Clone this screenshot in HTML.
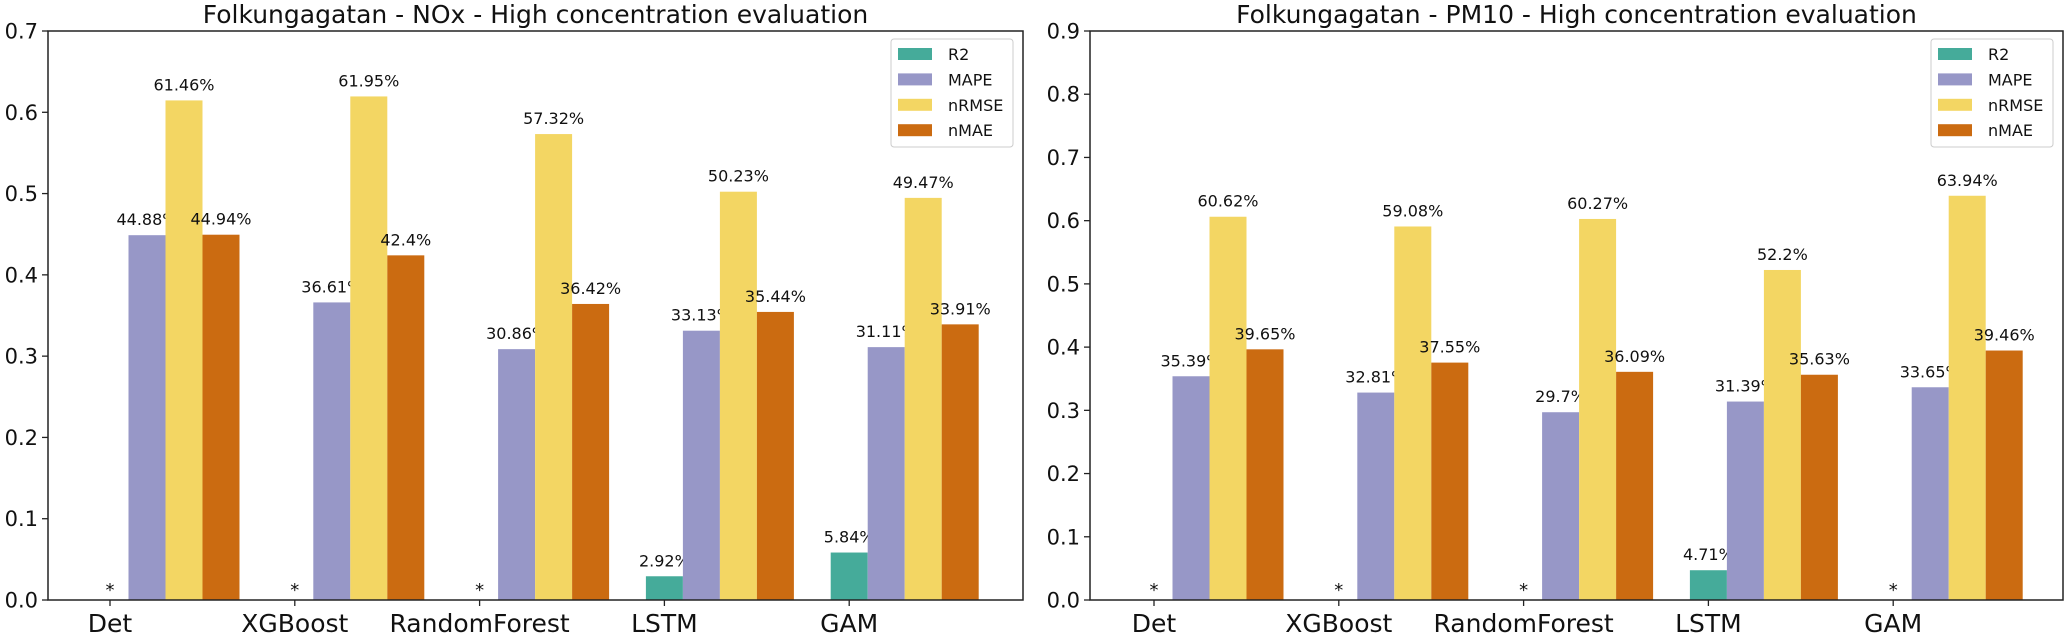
<!DOCTYPE html>
<html><head><meta charset="utf-8">
<style>
html,body{margin:0;padding:0;background:#fff;}
svg{display:block;font-family:"DejaVu Sans","Liberation Sans",sans-serif;}
</style></head>
<body>
<svg id="chart" width="2067" height="634" viewBox="0 0 2067 634" xmlns="http://www.w3.org/2000/svg"></svg>
<script>
const categories = ["Det","XGBoost","RandomForest","LSTM","GAM"];
const seriesNames = ["R2","MAPE","nRMSE","nMAE"];
const colors = ["#45ab9a","#9797c7","#f3d663","#cb6b11"];
// NOx
const noxR2 = [0,0,0,0.0292,0.0584];
const noxMAPE = [0.4488,0.3661,0.3086,0.3313,0.3111];
const noxNRMSE = [0.6146,0.6195,0.5732,0.5023,0.4947];
const noxNMAE = [0.4494,0.424,0.3642,0.3544,0.3391];
const noxR2Labels = ["*","*","*","2.92%","5.84%"];
const noxMAPELabels = ["44.88%","36.61%","30.86%","33.13%","31.11%"];
const noxNRMSELabels = ["61.46%","61.95%","57.32%","50.23%","49.47%"];
const noxNMAELabels = ["44.94%","42.4%","36.42%","35.44%","33.91%"];
const noxTicks = [0,0.1,0.2,0.3,0.4,0.5,0.6,0.7];
// PM10
const pmR2 = [0,0,0,0.0471,0];
const pmMAPE = [0.3539,0.3281,0.297,0.3139,0.3365];
const pmNRMSE = [0.6062,0.5908,0.6027,0.522,0.6394];
const pmNMAE = [0.3965,0.3755,0.3609,0.3563,0.3946];
const pmR2Labels = ["*","*","*","4.71%","*"];
const pmMAPELabels = ["35.39%","32.81%","29.7%","31.39%","33.65%"];
const pmNRMSELabels = ["60.62%","59.08%","60.27%","52.2%","63.94%"];
const pmNMAELabels = ["39.65%","37.55%","36.09%","35.63%","39.46%"];
const pmTicks = [0,0.1,0.2,0.3,0.4,0.5,0.6,0.7,0.8,0.9];

const NS="http://www.w3.org/2000/svg";
const svg=document.getElementById('chart');
function mk(tag,attrs,parent,text){const e=document.createElementNS(NS,tag);for(const k in attrs)e.setAttribute(k,attrs[k]);if(text!==undefined)e.textContent=text;(parent||svg).appendChild(e);return e;}

function drawPanel(opt){
  const g=mk('g',{});
  
  
  const L=opt.left,R=opt.right,T=31,B=600,ymax=opt.ticks[opt.ticks.length-1];
  const y=v=>B-(v/ymax)*(B-T);
  const x=(ci,si)=>L+opt.firstTick+ci*184.8+si*37;
  const bw=37;
  const t=mk('text',{x:(L+R)/2,y:23,'text-anchor':'middle','font-size':25,fill:'#111'},g,opt.title);
  
  
  opt.series.forEach((vals,si)=>{
    vals.forEach((v,ci)=>{
      const cx=x(ci,si);
      if(v>0){
        const r=mk('rect',{x:cx-bw/2,y:y(v),width:bw,height:B-y(v),fill:colors[si]},g);
        
        
      }
      const lab=opt.labels[si][ci];
      const ly=lab==='*'?y(v)-4:y(v)-10;
      const tx=mk('text',{x:cx,y:ly,'text-anchor':'middle','font-size':lab==='*'?18:16,fill:'#111'},g,lab);
      
      
    });
  });
  const frame=mk('rect',{x:L,y:T,width:R-L,height:B-T,fill:'none',stroke:'#222','stroke-width':1.5},g);
  
  
  opt.ticks.forEach(v=>{
    mk('line',{x1:L-6,x2:L,y1:y(v),y2:y(v),stroke:'#222','stroke-width':1.3},g);
    const tl=mk('text',{x:L-10,y:y(v)+7.5,'text-anchor':'end','font-size':21,fill:'#111'},g,v.toFixed(1));
    
    
  });
  categories.forEach((c,ci)=>{
    const cx=x(ci,0);
    mk('line',{x1:cx,x2:cx,y1:B,y2:B+6,stroke:'#222','stroke-width':1.3},g);
    const xl=mk('text',{x:cx,y:B+32,'text-anchor':'middle','font-size':25,fill:'#111'},g,c);
    
    
  });
  // legend
  const lx=R-132,ly=39;
  const lg=mk('g',{},g);
  
  
  mk('rect',{x:lx,y:ly,width:122,height:108,rx:3,fill:'#fff',stroke:'#ccc','stroke-width':1},lg);
  seriesNames.forEach((s,si)=>{
    const ry=54+si*25.4;
    mk('rect',{x:lx+7,y:ry-6,width:34,height:12,fill:colors[si]},lg);
    const le=mk('text',{x:lx+57,y:ry+6,'font-size':16,fill:'#111'},lg,s);
    
    
  });
}
drawPanel({name:'nox-panel',title:'Folkungagatan - NOx - High concentration evaluation',left:48,right:1023,firstTick:62,ticks:noxTicks,
  series:[noxR2,noxMAPE,noxNRMSE,noxNMAE],labels:[noxR2Labels,noxMAPELabels,noxNRMSELabels,noxNMAELabels]});
drawPanel({name:'pm10-panel',title:'Folkungagatan - PM10 - High concentration evaluation',left:1090,right:2063,firstTick:64,ticks:pmTicks,
  series:[pmR2,pmMAPE,pmNRMSE,pmNMAE],labels:[pmR2Labels,pmMAPELabels,pmNRMSELabels,pmNMAELabels]});
</script>
</body></html>
